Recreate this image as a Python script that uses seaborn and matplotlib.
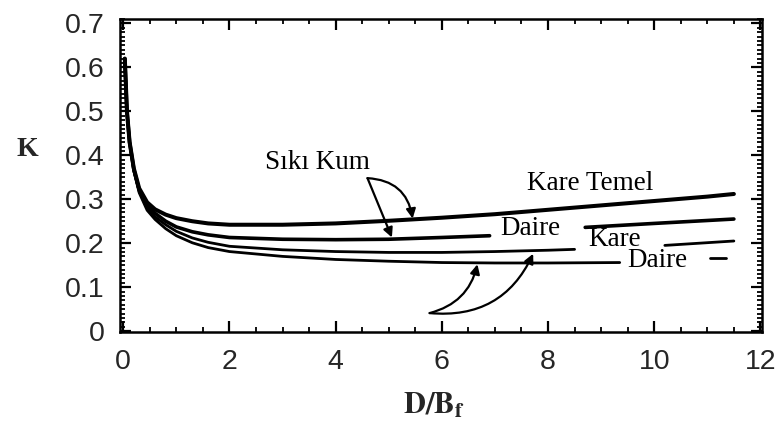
import numpy as np
import pandas as pd
import matplotlib
matplotlib.use("Agg")
import matplotlib.pyplot as plt
from matplotlib.ticker import MultipleLocator, FuncFormatter
import seaborn as sns

# Bearing capacity factor K versus embedment ratio D/Bf (NaN = gap left for a label)
x_kare_siki = [0.03, 0.07, 0.12, 0.2, 0.3, 0.45, 0.6, 0.8, 1.0, 1.3, 1.6, 2.0, 3.0, 4.0, 5.0, 6.0, 7.0, 8.0, 9.0, 10.0, 11.0, 11.5]
k_kare_siki = [0.62, 0.50, 0.43, 0.37, 0.325, 0.293, 0.277, 0.265, 0.257, 0.25, 0.245, 0.242, 0.242, 0.245, 0.251, 0.258, 0.266, 0.276, 0.286, 0.296, 0.306, 0.312]

x_daire_siki = [0.03, 0.07, 0.12, 0.2, 0.3, 0.45, 0.6, 0.8, 1.0, 1.3, 1.6, 2.0, 3.0, 4.0, 5.0, 6.0, 6.9, np.nan, 8.7, 10.0, 11.5]
k_daire_siki = [0.62, 0.50, 0.43, 0.368, 0.322, 0.287, 0.268, 0.25, 0.237, 0.226, 0.219, 0.213, 0.209, 0.208, 0.209, 0.213, 0.217, np.nan, 0.236, 0.245, 0.255]

x_kare_gevsek = [0.03, 0.07, 0.12, 0.2, 0.3, 0.45, 0.6, 0.8, 1.0, 1.3, 1.6, 2.0, 3.0, 4.0, 5.0, 6.0, 7.0, 8.0, 8.5, np.nan, 10.2, 11.5]
k_kare_gevsek = [0.62, 0.50, 0.43, 0.366, 0.318, 0.28, 0.26, 0.242, 0.227, 0.212, 0.202, 0.193, 0.185, 0.181, 0.179, 0.179, 0.181, 0.184, 0.186, np.nan, 0.195, 0.205]

x_daire_gevsek = [0.03, 0.07, 0.12, 0.2, 0.3, 0.45, 0.6, 0.8, 1.0, 1.3, 1.6, 2.0, 3.0, 4.0, 5.0, 6.0, 7.0, 8.0, 9.35, np.nan, 11.05, 11.35]
k_daire_gevsek = [0.62, 0.50, 0.43, 0.364, 0.315, 0.275, 0.254, 0.233, 0.217, 0.201, 0.19, 0.181, 0.17, 0.163, 0.159, 0.156, 0.155, 0.155, 0.156, np.nan, 0.166, 0.166]

x_ticks = [0, 2, 4, 6, 8, 10, 12]
y_ticks = [0, 0.1, 0.2, 0.3, 0.4, 0.5, 0.6, 0.7]

sns.set_theme(style="ticks")
plt.rcParams["font.family"] = ["Liberation Sans", "DejaVu Sans"]
plt.rcParams["mathtext.fontset"] = "stix"

fig = plt.figure(figsize=(7.81, 4.33), dpi=100)
ax = fig.add_axes([0.1537, 0.2333, 0.8220, 0.7227])

curves = [
    ("Kare Temel (sıkı)", x_kare_siki, k_kare_siki, 2.9),
    ("Daire (sıkı)", x_daire_siki, k_daire_siki, 2.6),
    ("Kare (gevşek)", x_kare_gevsek, k_kare_gevsek, 2.0),
    ("Daire (gevşek)", x_daire_gevsek, k_daire_gevsek, 2.0),
]

for name, xs, ks, lw in curves:
    df = pd.DataFrame({"x": xs, "K": ks})
    seg = df["x"].isna().cumsum()
    for _, part in df.dropna().groupby(seg[df["x"].notna()]):
        sns.lineplot(data=part, x="x", y="K", ax=ax, color="black", lw=lw,
                     sort=False, estimator=None, legend=False)

ax.set_xlim(-0.06, 12.03)
ax.set_ylim(-0.002, 0.71)
ax.set_xticks(x_ticks)
ax.set_yticks(y_ticks)
ax.xaxis.set_minor_locator(MultipleLocator(0.5))
ax.yaxis.set_minor_locator(MultipleLocator(0.01))
ax.yaxis.set_major_formatter(FuncFormatter(lambda v, p: f"{v:g}"))
ax.tick_params(which="both", direction="in", top=True, right=True, color="black")
ax.tick_params(which="major", length=8, width=1.6, labelsize=20.5)
ax.tick_params(which="minor", length=3.5, width=1.3)
ax.tick_params(axis="x", which="major", pad=12)
ax.tick_params(axis="y", which="major", pad=11)
for sp in ax.spines.values():
    sp.set_linewidth(1.8)
    sp.set_color("black")
ax.set_xlabel("")
ax.set_ylabel("")

serif = ["Liberation Serif", "DejaVu Serif"]
fig.text(27 / 781, 1 - 150 / 433, "K", family=serif, fontweight="bold",
         fontsize=20, ha="center", va="center")
fig.text(434 / 781, 1 - 405 / 433, r"$\mathbf{D/B_f}$", fontsize=22,
         ha="center", va="center")

lab = dict(family=serif, fontsize=19.5, color="black", va="center")
ax.text(2.67, 0.383, "Sıkı Kum", ha="left", **lab)
ax.text(7.6, 0.335, "Kare Temel", ha="left", **lab)
ax.text(7.1, 0.234, "Daire", ha="left", **lab)
ax.text(8.75, 0.208, "Kare", ha="left", **lab)
ax.text(9.5, 0.16, "Daire", ha="left", **lab)

arrow = dict(arrowstyle="-|>", color="black", lw=1.6, mutation_scale=14)
ax.annotate("", xy=(5.06, 0.213), xytext=(4.6, 0.348),
            arrowprops=dict(**arrow, shrinkA=0, shrinkB=0))
ax.annotate("", xy=(5.45, 0.256), xytext=(4.6, 0.348),
            arrowprops=dict(**arrow, shrinkA=0, shrinkB=0,
                            connectionstyle="arc3,rad=-0.4"))
ax.annotate("", xy=(6.67, 0.152), xytext=(5.77, 0.041),
            arrowprops=dict(**arrow, shrinkA=0, shrinkB=0,
                            connectionstyle="arc3,rad=0.3"))
ax.annotate("", xy=(7.72, 0.176), xytext=(5.77, 0.041),
            arrowprops=dict(**arrow, shrinkA=0, shrinkB=0,
                            connectionstyle="arc3,rad=0.35"))

fig.savefig("out.png", dpi=100, facecolor="white")
